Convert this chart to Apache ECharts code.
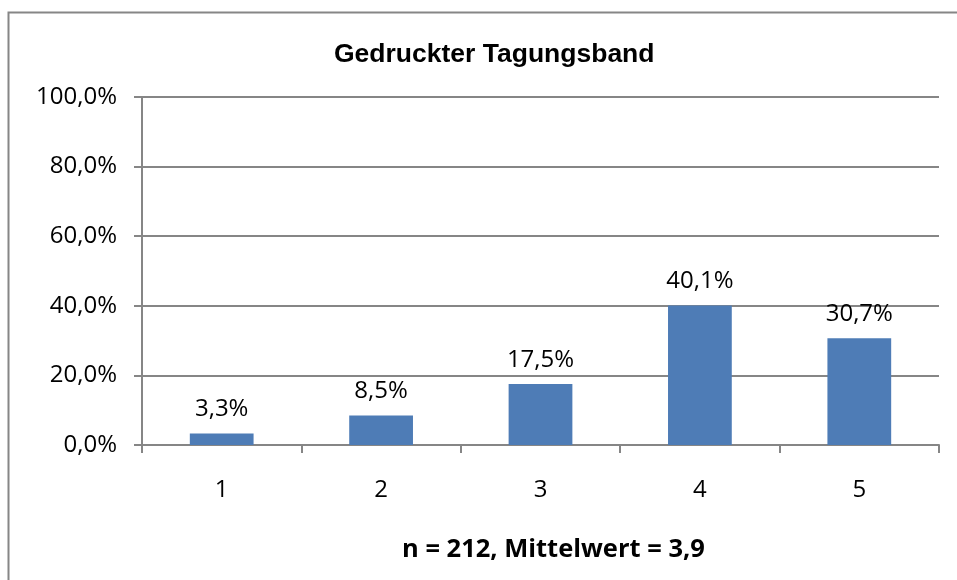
<!DOCTYPE html>
<html><head><meta charset="utf-8">
<script src="https://cdn.jsdelivr.net/npm/echarts@6/dist/echarts.min.js"></script>
<style>html,body{margin:0;padding:0;background:#fff}#c{width:957px;height:580px}</style>
</head><body><div id="c"></div>
<script>
const categories = ['1', '2', '3', '4', '5'];
const values = [3.3, 8.5, 17.5, 40.1, 30.7];
const titleText = 'Gedruckter Tagungsband';
const xAxisTitle = 'n = 212, Mittelwert = 3,9';

const fmt = v => v.toFixed(1).replace('.', ',') + '%';
const chart = echarts.init(document.getElementById('c'), null, {renderer: 'canvas'});
chart.setOption({
  animation: false,
  backgroundColor: '#fff',
  graphic: [{
    type: 'rect', shape: {x: 8.5, y: 12.5, width: 1000, height: 700},
    style: {fill: 'none', stroke: '#868686', lineWidth: 2}, silent: true, z: 0
  }, {
    type: 'text', left: 402, top: 537, silent: true,
    style: {text: xAxisTitle, font: 'bold 25.5px "Open Sans"', fill: '#000'}
  }],
  title: {
    text: titleText, left: 329, top: 36,
    textStyle: {fontFamily: 'Liberation Sans', fontWeight: 'bold', fontSize: 26.5, color: '#000'}
  },
  grid: {left: 142, right: 18, top: 97, bottom: 135, containLabel: false},
  xAxis: {
    type: 'category', data: categories,
    axisLine: {lineStyle: {color: '#868686', width: 2}},
    axisTick: {show: true, length: 8, alignWithLabel: false, lineStyle: {color: '#868686', width: 2}},
    axisLabel: {margin: 33, fontFamily: 'Open Sans', fontSize: 24, color: '#000'}
  },
  yAxis: {
    type: 'value', min: 0, max: 100, interval: 20,
    axisLine: {show: true, lineStyle: {color: '#868686', width: 2}},
    axisTick: {show: true, length: 8, lineStyle: {color: '#868686', width: 2}},
    splitLine: {show: true, lineStyle: {color: '#868686', width: 2}},
    axisLabel: {margin: 25, fontFamily: 'Open Sans', fontSize: 24, color: '#000', formatter: fmt}
  },
  series: [{
    type: 'bar', data: values, barWidth: '40%',
    itemStyle: {color: '#4E7CB6'},
    label: {show: true, position: 'top', distance: 12, formatter: p => fmt(p.value),
      fontFamily: 'Open Sans', fontSize: 24, color: '#000'}
  }]
});
</script></body></html>
